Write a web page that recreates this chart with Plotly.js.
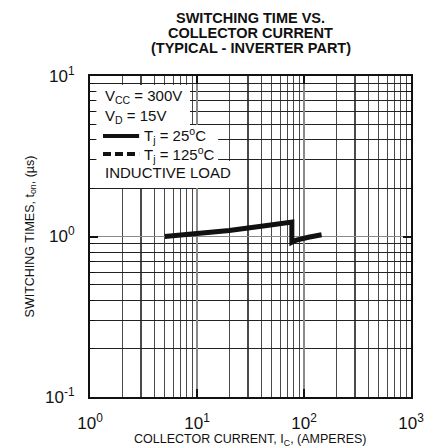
<!DOCTYPE html>
<html>
<head>
<meta charset="utf-8">
<script src="https://cdn.plot.ly/plotly-3.0.1.min.js"></script>
<style>html,body{margin:0;padding:0;background:#fff;}#chart{width:443px;height:448px;}</style>
</head>
<body>
<div id="chart"></div>
<script>
// Collector current (A) and switching time t_on (us)
const collectorCurrent = [5, 10, 20, 45, 77, 77, 85, 110, 146];
const switchingTime25 = [1.0, 1.035, 1.09, 1.17, 1.23, 0.92, 0.95, 0.99, 1.025];

const xTickVals = [1, 10, 100, 1000];
const xTickText = ['10<sup>0</sup>', '10<sup>1</sup>', '10<sup>2</sup>', '10<sup>3</sup>'];
const yTickVals = [0.1, 1, 10];
const yTickText = ['10<sup>-1</sup>', '10<sup>0</sup>', '10<sup>1</sup>'];

const titleLines = ['SWITCHING TIME VS.', 'COLLECTOR CURRENT', '(TYPICAL - INVERTER PART)'];
const legendLines = ['V<sub>CC</sub> = 300V', 'V<sub>D</sub> = 15V', 'T<sub>j</sub> = 25<sup>o</sup>C', 'T<sub>j</sub> = 125<sup>o</sup>C', 'INDUCTIVE LOAD'];
const xTitle = 'COLLECTOR CURRENT, I<sub>C</sub>, (AMPERES)';
const yTitle = 'SWITCHING TIMES, t<sub>on</sub>, (µs)';

const FONT = 'Liberation Sans, Arial, Helvetica, sans-serif';

const trace = {
  x: collectorCurrent,
  y: switchingTime25,
  type: 'scatter',
  mode: 'lines',
  line: {color: '#111', width: 5},
  hoverinfo: 'skip',
  showlegend: false
};

function axisCommon() {
  return {
    type: 'log',
    tickmode: 'array',
    showline: true,
    linecolor: '#111',
    linewidth: 2,
    mirror: 'ticks',
    ticks: 'inside',
    ticklen: 8,
    tickwidth: 2,
    tickcolor: '#111',
    showgrid: true,
    gridcolor: '#8a8a8a',
    gridwidth: 1.5,
    zeroline: false,
    tickfont: {family: FONT, size: 17, color: '#111'}
  };
}

const xaxis = Object.assign(axisCommon(), {
  range: [0, 3],
  tickvals: xTickVals,
  ticktext: xTickText,
  ticklabelstandoff: 10,
  minor: {dtick: 'D1', showgrid: true, gridcolor: '#4a4a4a', gridwidth: 1.2, ticks: ''}
});

const yaxis = Object.assign(axisCommon(), {
  range: [-1, 1],
  tickvals: yTickVals,
  ticktext: yTickText,
  ticklabelstandoff: 10,
  minor: {dtick: 'D1', showgrid: true, gridcolor: '#222', gridwidth: 1.1, ticks: 'inside', ticklen: 5, tickwidth: 1, tickcolor: '#111'},
  title: {text: yTitle, font: {family: FONT, size: 12.5, color: '#111'}, standoff: 8}
});

const titleY = [1.1807, 1.1340, 1.0872];
const annotations = titleLines.map((t, i) => ({
  text: '<b>' + t + '</b>', xref: 'paper', yref: 'paper', x: 0.501, y: titleY[i],
  xanchor: 'center', yanchor: 'middle', showarrow: false,
  font: {family: FONT, size: 14.5, color: '#111'}
}));

annotations.push({
  text: xTitle, xref: 'paper', yref: 'paper', x: 0.5, y: -0.133,
  xanchor: 'center', yanchor: 'middle', showarrow: false,
  font: {family: FONT, size: 12.5, color: '#111'}
});

const legendX = [0.0405, 0.0405, 0.162, 0.162, 0.0405];
const legendY = [0.9346, 0.8723, 0.8131, 0.757, 0.7009];
legendLines.forEach((t, i) => annotations.push({
  text: t, xref: 'paper', yref: 'paper', x: legendX[i], y: legendY[i],
  xanchor: 'left', yanchor: 'middle', showarrow: false,
  font: {family: FONT, size: 15, color: '#111'}
}));

const shapes = [
  {type: 'rect', xref: 'paper', yref: 'paper', x0: 0.02, x1: 0.3115, y0: 0.841, y1: 0.972, layer: 'above', line: {width: 0}, fillcolor: '#fff'},
  {type: 'rect', xref: 'paper', yref: 'paper', x0: 0.02, x1: 0.399, y0: 0.729, y1: 0.847, layer: 'above', line: {width: 0}, fillcolor: '#fff'},
  {type: 'rect', xref: 'paper', yref: 'paper', x0: 0.02, x1: 0.455, y0: 0.651, y1: 0.735, layer: 'above', line: {width: 0}, fillcolor: '#fff'},
  {type: 'line', xref: 'paper', yref: 'paper', x0: 0.0405, x1: 0.153, y0: 0.8131, y1: 0.8131, layer: 'above', line: {color: '#111', width: 4}},
  {type: 'line', xref: 'paper', yref: 'paper', x0: 0.0405, x1: 0.153, y0: 0.757, y1: 0.757, layer: 'above', line: {color: '#111', width: 4, dash: '8px,4px'}}
];

const layout = {
  width: 443,
  height: 448,
  margin: {l: 90, r: 32, t: 76, b: 51, pad: 0},
  paper_bgcolor: '#fff',
  plot_bgcolor: '#fff',
  xaxis: xaxis,
  yaxis: yaxis,
  annotations: annotations,
  shapes: shapes,
  showlegend: false
};

Plotly.newPlot('chart', [trace], layout, {displayModeBar: false, staticPlot: true});
</script>
</body>
</html>
